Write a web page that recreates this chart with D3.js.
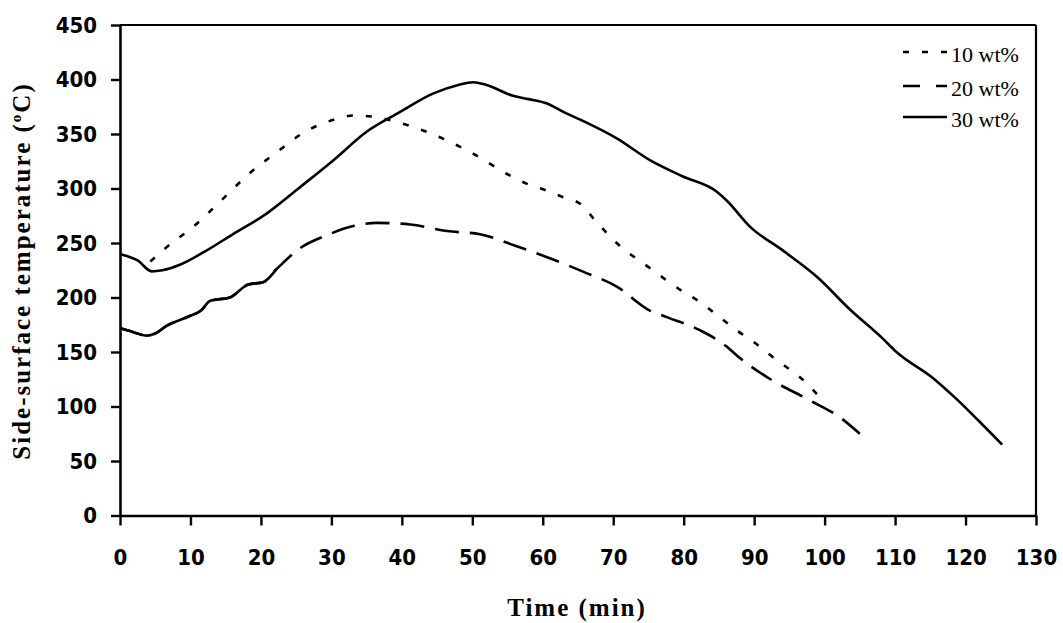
<!DOCTYPE html>
<html>
<head>
<meta charset="utf-8">
<script src="https://cdn.jsdelivr.net/npm/d3@7"></script>
<style>
  html, body { margin: 0; padding: 0; background: #fff; }
  svg { display: block; }
</style>
</head>
<body>
<svg id="chart" width="1063" height="623"></svg>
<script>
// ---- data ----
const xTicks = [0, 10, 20, 30, 40, 50, 60, 70, 80, 90, 100, 110, 120, 130];
const yTicks = [0, 50, 100, 150, 200, 250, 300, 350, 400, 450];
const seriesNames = ["10 wt%", "20 wt%", "30 wt%"];

const wt10Time = [4.3, 6.4, 10.6, 14.2, 18.4, 22.4, 26, 30.3, 33.4, 35.7, 40.4, 45.4, 50.1, 55.3, 57.7, 60.6, 62.9, 65.5, 67.4, 70.5, 75.2, 80, 82.3, 84.7, 87.5, 90.6, 92.5, 97.5, 99.1];
const wt10Temp = [233, 245, 266, 288, 314, 334, 351, 363, 367, 366, 359, 347, 332, 312, 304.5, 298, 292, 285, 271, 250, 227, 205, 196, 184, 170, 156, 146, 121, 110];

const wt20Time = [0, 2, 3.8, 5, 6.6, 9.9, 11.5, 12.8, 15.6, 18.2, 20.3, 22.2, 25.5, 29.3, 33.1, 36.4, 41.2, 46.4, 51.1, 56.3, 61, 65.8, 70.5, 75.2, 77.6, 82.3, 86.1, 87.5, 92.3, 97.5, 102.4, 105];
const wt20Temp = [172, 168, 165, 167, 174, 183, 188, 197, 200, 212, 214, 226, 245, 257, 265.5, 268.5, 267, 261, 258, 247, 236, 223.5, 210, 188, 182, 170, 155, 147, 125, 107, 89, 75];

const wt30Time = [0, 1, 2.5, 4.5, 6, 8.5, 12, 16, 20.8, 25.5, 30.3, 35, 39.7, 44.4, 48, 50.1, 52, 55.8, 58, 60.6, 63, 65.7, 70.5, 75.2, 79.9, 84.7, 86.1, 89.4, 94.1, 98.9, 103.6, 108.3, 110.2, 115.4, 118.7, 122, 125.2];
const wt30Temp = [240, 238, 234, 224, 225, 230, 242, 258, 277, 301, 326, 352, 370, 387, 395, 397.5, 395, 385, 382, 378, 370, 362, 346, 326, 311, 297, 289, 265, 243, 219, 189, 162, 150, 126, 107, 86, 65];

// ---- layout ----
const svg = d3.select("#chart");
const x = d3.scaleLinear().domain([0, 130]).range([120, 1036]);
const y = d3.scaleLinear().domain([0, 450]).range([515.5, 25]);

const zip = (t, v) => t.map((d, i) => ({ t: d, v: v[i] }));
const s10 = zip(wt10Time, wt10Temp);
const s20 = zip(wt20Time, wt20Temp);
const s30 = zip(wt30Time, wt30Temp);

const line = d3.line().x(d => x(d.t)).y(d => y(d.v)).curve(d3.curveMonotoneX);

// plot frame (top & right)
svg.append("line").attr("x1", x(0)).attr("x2", x(130)).attr("y1", y(450)).attr("y2", y(450))
  .attr("stroke", "#000").attr("stroke-width", 2.2);
svg.append("line").attr("x1", x(130)).attr("x2", x(130)).attr("y1", y(450)).attr("y2", y(0))
  .attr("stroke", "#000").attr("stroke-width", 2.2);

// series
svg.append("path").datum(s10).attr("d", line)
  .attr("fill", "none").attr("stroke", "#000").attr("stroke-width", 2.6)
  .attr("stroke-dasharray", "6,13");
svg.append("path").datum(s20).attr("d", line)
  .attr("fill", "none").attr("stroke", "#000").attr("stroke-width", 2.6)
  .attr("stroke-dasharray", "24,11");
svg.append("path").datum(s20.filter(d => d.t <= 22.2)).attr("d", line)
  .attr("fill", "none").attr("stroke", "#000").attr("stroke-width", 2.6);
svg.append("path").datum(s30).attr("d", line)
  .attr("fill", "none").attr("stroke", "#000").attr("stroke-width", 2.6);

// axes
const tickFont = "'DejaVu Sans Condensed', 'DejaVu Sans', sans-serif";
const yAxis = svg.append("g").attr("transform", `translate(${x(0)},0)`)
  .call(d3.axisLeft(y).tickValues(yTicks).tickSize(9).tickSizeOuter(0).tickPadding(14));
const xAxis = svg.append("g").attr("transform", `translate(0,${y(0)})`)
  .call(d3.axisBottom(x).tickValues(xTicks).tickSize(10).tickSizeOuter(0).tickPadding(24));
[xAxis, yAxis].forEach(g => {
  g.select(".domain").attr("stroke", "#000").attr("stroke-width", 2.6);
  g.selectAll(".tick line").attr("stroke", "#000").attr("stroke-width", 2.4);
  g.selectAll(".tick text")
    .attr("fill", "#000")
    .style("font-family", tickFont)
    .style("font-stretch", "condensed")
    .style("font-weight", "bold")
    .style("font-size", "22px");
});

// axis titles
svg.append("text")
  .attr("x", 577).attr("y", 616)
  .attr("text-anchor", "middle")
  .style("font-family", "'Liberation Serif', 'Times New Roman', serif")
  .style("font-weight", "bold").style("font-size", "25px")
  .style("letter-spacing", "2px")
  .text("Time (min)");

const yt = svg.append("text")
  .attr("transform", "translate(30,271) rotate(-90)")
  .attr("text-anchor", "middle")
  .style("font-family", "'Liberation Serif', 'Times New Roman', serif")
  .style("font-weight", "bold").style("font-size", "25px")
  .style("letter-spacing", "2px");
yt.append("tspan").text("Side-surface temperature (");
yt.append("tspan").attr("dy", -9).style("font-size", "15px").text("o");
yt.append("tspan").attr("dy", 9).text("C)");

// legend
const legendY = [52, 86, 117];
const legendDash = ["6,13", "17,16,11", null];
seriesNames.forEach((name, i) => {
  const l = svg.append("line")
    .attr("x1", 903).attr("x2", 947)
    .attr("y1", legendY[i]).attr("y2", legendY[i])
    .attr("stroke", "#000").attr("stroke-width", 2.6);
  if (legendDash[i]) l.attr("stroke-dasharray", legendDash[i]);
  svg.append("text")
    .attr("x", 951).attr("y", legendY[i] + 10)
    .style("font-family", "'Liberation Serif', 'Times New Roman', serif")
    .style("font-size", "22px")
    .text(name);
});
</script>
</body>
</html>
